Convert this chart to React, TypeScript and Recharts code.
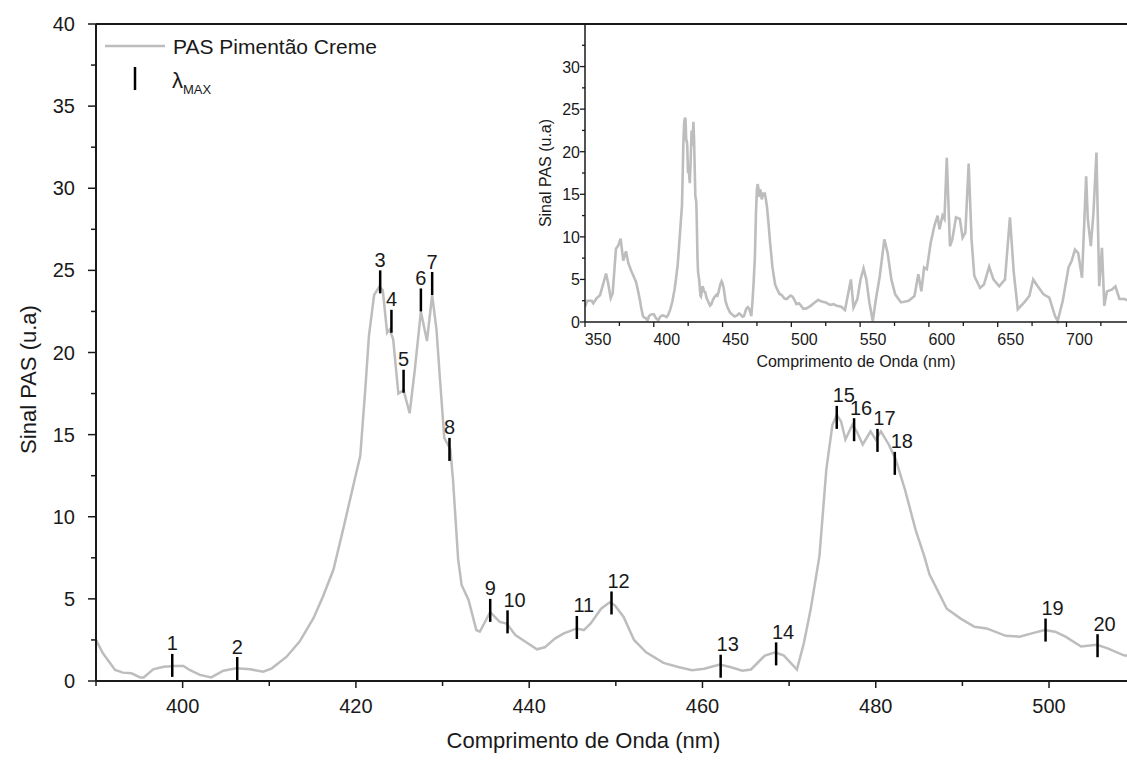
import React from 'react';
import { ComposedChart, Line, XAxis, YAxis, ReferenceLine, ReferenceDot, Label } from 'recharts';

// PAS spectrum (nm, u.a)
const wavelengths = [
  350, 351.7, 354.8, 356, 358.5, 360.9, 363.3, 365.3, 366.9, 368.7, 370.1, 372.5, 374.2, 375.9, 377.8, 379.8,
  381.5, 383.9, 387.1, 389, 390, 390.8, 392.2, 393.1, 394.1, 395.1, 395.5, 396.6, 397.8, 399.1, 400.1, 400.8,
  402, 403.3, 404.7, 406.2, 407.8, 409.3, 410.3, 412, 413.5, 415.1, 416.2, 417.4, 418.6, 419.9, 420.5, 421.1,
  421.5, 422.1, 422.7, 423.1, 423.6, 423.9, 424.3, 424.9, 425.5, 426.2, 426.8, 427.5, 428.2, 428.8, 429.3, 429.7,
  430.2, 430.9, 431.2, 431.8, 432.2, 433, 433.9, 434.3, 435.5, 436.6, 437.4, 438.4, 439.7, 440.9, 441.8, 443,
  444, 445.5, 446.3, 447.1, 448.3, 449.3, 449.9, 450.9, 452.1, 453.5, 455.5, 457.2, 458.8, 460.2, 462, 463.2,
  464.6, 465.6, 467.2, 468.4, 469.4, 470.9, 471.7, 472.5, 473.5, 474.3, 475, 475.5, 476, 476.5, 477.3, 477.8,
  478.5, 479.4, 480, 480.6, 481.5, 482.3, 483.4, 484.6, 485.6, 486.2, 488.2, 489.8, 491.4, 492.8, 495, 496.6,
  498, 499.5, 500.7, 501.9, 503.7, 505.5, 506.7, 508.7, 511, 514, 517, 519.5, 522, 525, 528, 530.7,
  533, 536.3, 539, 543.3, 545.2, 548, 550.3, 552.5, 554.5, 556.7, 559.2, 561.5, 564.3, 567.6, 570, 572.7,
  575.5, 579.7, 585.3, 589.5, 592.3, 594.5, 596.5, 598.5, 601.3, 604, 606.3, 607.7, 609.9, 611.3, 613, 615.3,
  617, 619.7, 622.5, 624.5, 626.5, 628.9, 631, 633, 637.2, 640, 643.8, 646.9, 651.1, 655.3, 658.9, 661.7,
  664.6, 669.3, 673, 675.8, 679.1, 683.3, 687.5, 691.7, 693.6, 697.3, 701.5, 703.8, 706.2, 708.5, 711.3, 714.3,
  715.5, 717.7, 719.6, 721.8, 723.8, 725.8, 727.5, 729.4, 732.9, 735.6, 738.5, 742.2, 745,
];
const signal = [
  1.8, 2.5, 2.5, 2.2, 2.8, 3.15, 4.5, 5.7, 4.5, 2.8, 3.35, 8.6, 9.0, 9.8, 7.2, 8.3,
  6.9, 5.9, 4.7, 3.3, 2.5, 1.69, 0.67, 0.51, 0.47, 0.22, 0.22, 0.71, 0.87, 0.91, 0.91, 0.67,
  0.37, 0.22, 0.63, 0.77, 0.71, 0.57, 0.77, 1.48, 2.4, 3.82, 5.14, 6.77, 9.4, 12.36, 13.7, 17.9,
  21.0, 23.5, 24.0, 23.8, 21.2, 21.4, 20.8, 17.5, 17.7, 16.3, 18.96, 22.5, 20.7, 23.5, 21.4, 18.4,
  14.8, 14.1, 12.3, 7.4, 5.85, 4.94, 3.1, 3.0, 4.2, 3.6, 3.5, 2.8, 2.34, 1.93, 2.05, 2.6,
  2.9, 3.2, 3.1, 3.5, 4.4, 4.8, 4.6, 3.9, 2.5, 1.75, 1.1, 0.85, 0.65, 0.75, 1.0, 0.85,
  0.62, 0.7, 1.55, 1.75, 1.55, 0.7, 2.3, 4.4, 7.6, 12.9, 15.6, 16.2, 15.8, 14.7, 15.6, 15.2,
  14.4, 15.2, 14.7, 15.2, 14.4, 13.5, 11.6, 9.2, 7.6, 6.5, 4.4, 3.8, 3.3, 3.2, 2.75, 2.7,
  2.9, 3.1, 3.0, 2.7, 2.1, 2.2, 2.0, 1.55, 1.6, 1.9, 2.3, 2.6, 2.4, 2.3, 2.0, 2.1,
  1.9, 1.8, 1.4, 5.0, 1.7, 2.7, 5.0, 6.3, 5.0, 2.3, 0.1, 2.7, 5.4, 9.7, 8.1, 5.0,
  3.25, 2.3, 2.5, 3.05, 5.6, 3.6, 6.4, 6.2, 9.3, 11.3, 12.5, 10.9, 12.5, 12.1, 19.3, 8.9,
  9.7, 12.3, 12.1, 9.9, 10.5, 18.6, 9.7, 5.4, 4.0, 4.4, 6.5, 5.0, 4.2, 5.0, 12.3, 5.8,
  1.5, 2.3, 3.05, 5.0, 4.2, 3.25, 2.86, 0.7, 0.1, 2.5, 6.4, 7.2, 8.5, 8.1, 5.2, 17.1,
  12.1, 8.9, 12.8, 19.9, 4.2, 8.7, 1.9, 3.6, 3.8, 4.2, 2.7, 2.7, 2.5,
];

// lambda max markers
const peakLabels = ['1', '2', '3', '4', '5', '6', '7', '8', '9', '10', '11', '12', '13', '14', '15', '16', '17', '18', '19', '20'];
const peakWavelengths = [398.8, 406.3, 422.8, 424.1, 425.5, 427.5, 428.8, 430.8, 435.5, 437.5, 445.5, 449.5, 462.1, 468.5, 475.5, 477.5, 480.2, 482.2, 499.6, 505.6];
const peakSignals = [0.95, 0.76, 24.3, 21.9, 18.25, 23.2, 24.2, 14.1, 4.3, 3.6, 3.26, 4.75, 0.9, 1.65, 16.05, 15.3, 14.65, 13.25, 3.1, 2.15];

const mainXTicks = [390, 400, 410, 420, 430, 440, 450, 460, 470, 480, 490, 500];
const mainYTicks = [0, 2.5, 5, 7.5, 10, 12.5, 15, 17.5, 20, 22.5, 25, 27.5, 30, 32.5, 35, 37.5, 40];
const insetXTicks = [350, 375, 400, 425, 450, 475, 500, 525, 550, 575, 600, 625, 650, 675, 700, 725];
const insetYTicks = [0, 2.5, 5, 7.5, 10, 12.5, 15, 17.5, 20, 22.5, 25, 27.5, 30, 32.5];

const spectrum = wavelengths.map((wl, i) => ({ wl, sig: signal[i] }));

const FONT = '"Liberation Sans", Arial, sans-serif';
const INK = '#1a1a1a';
const GREY = '#bdbdbd';

function MainXTick({ x, y, payload }: any) {
  const major = payload.value % 20 === 0;
  return (
    <g>
      <line x1={x} y1={y} x2={x} y2={y + (major ? 7 : 5)} stroke={INK} strokeWidth={1.5} />
      {major && (
        <text x={x} y={y + 32} textAnchor="middle" fontSize={20} fill={INK} fontFamily={FONT}>
          {payload.value}
        </text>
      )}
    </g>
  );
}

function MainYTick({ x, y, payload }: any) {
  const major = payload.value % 5 === 0;
  return (
    <g>
      <line x1={x - (major ? 8 : 5)} y1={y} x2={x} y2={y} stroke={INK} strokeWidth={1.5} />
      {major && (
        <text x={x - 21} y={y + 7} textAnchor="end" fontSize={20} fill={INK} fontFamily={FONT}>
          {payload.value}
        </text>
      )}
    </g>
  );
}

function InsetXTick({ x, y, payload }: any) {
  const major = payload.value % 50 === 0;
  return (
    <g>
      <line x1={x} y1={y} x2={x} y2={y + (major ? 5 : 4)} stroke={INK} strokeWidth={1.3} />
      {major && (
        <text x={x + 13} y={y + 23} textAnchor="middle" fontSize={16} fill={INK} fontFamily={FONT}>
          {payload.value}
        </text>
      )}
    </g>
  );
}

function InsetYTick({ x, y, payload }: any) {
  const major = payload.value % 5 === 0;
  return (
    <g>
      <line x1={x - (major ? 5 : 3)} y1={y} x2={x} y2={y} stroke={INK} strokeWidth={1.3} />
      {major && (
        <text x={x - 5} y={y + 6} textAnchor="end" fontSize={16} fill={INK} fontFamily={FONT}>
          {payload.value}
        </text>
      )}
    </g>
  );
}

function PeakMark({ cx, cy, text }: any) {
  const dx = text.length > 1 ? 7 : 0;
  return (
    <g>
      <line x1={cx} y1={cy - 11.5} x2={cx} y2={cy + 11.5} stroke="#000" strokeWidth={2.5} />
      <text x={cx + dx} y={cy - 15} textAnchor="middle" fontSize={20} fill={INK} fontFamily={FONT}>
        {text}
      </text>
    </g>
  );
}

export default function App() {
  return (
    <div style={{ position: 'absolute', left: 0, top: 0, width: 1127, height: 760, background: '#fff', overflow: 'hidden' }}>
      <div style={{ position: 'absolute', left: 0, top: 0 }}>
        <ComposedChart width={1127} height={760} margin={{ top: 24, right: 0, bottom: 0, left: 0 }}>
          <XAxis
            dataKey="wl"
            type="number"
            domain={[390, 509]}
            allowDataOverflow
            ticks={mainXTicks}
            interval={0}
            tick={<MainXTick />}
            tickSize={0}
            tickMargin={0}
            tickLine={false}
            axisLine={{ stroke: INK, strokeWidth: 2 }}
            height={79}
          >
            <Label value="Comprimento de Onda (nm)" position="insideBottom" offset={12} dx={-28} fontSize={22} fill={INK} fontFamily={FONT} />
          </XAxis>
          <YAxis
            type="number"
            domain={[0, 40]}
            ticks={mainYTicks}
            interval={0}
            tick={<MainYTick />}
            tickSize={0}
            tickMargin={0}
            tickLine={false}
            axisLine={{ stroke: INK, strokeWidth: 2 }}
            width={96}
          >
            <Label value="Sinal PAS (u.a)" angle={-90} position="center" dx={-20} dy={27} fontSize={22} fill={INK} fontFamily={FONT} />
          </YAxis>
          <ReferenceLine y={40} stroke={INK} strokeWidth={2} />
          <Line
            data={spectrum}
            dataKey="sig"
            type="linear"
            stroke={GREY}
            strokeWidth={2.5}
            dot={false}
            isAnimationActive={false}
          />
          {peakWavelengths.map((wl, i) => (
            <ReferenceDot
              key={peakLabels[i]}
              x={wl}
              y={peakSignals[i]}
              r={0}
              shape={(p: any) => <PeakMark cx={p.cx} cy={p.cy} text={peakLabels[i]} />}
            />
          ))}
        </ComposedChart>
      </div>

      <div style={{ position: 'absolute', left: 480, top: 0 }}>
        <ComposedChart width={647} height={400} margin={{ top: 24, right: 0, bottom: 0, left: 0 }}>
          <XAxis
            dataKey="wl"
            type="number"
            domain={[350, 744]}
            allowDataOverflow
            ticks={insetXTicks}
            interval={0}
            tick={<InsetXTick />}
            tickSize={0}
            tickMargin={0}
            tickLine={false}
            axisLine={{ stroke: INK, strokeWidth: 1.5 }}
            height={78}
          >
            <Label value="Comprimento de Onda (nm)" position="insideBottom" offset={33} fontSize={16} fill={INK} fontFamily={FONT} />
          </XAxis>
          <YAxis
            type="number"
            domain={[0, 35]}
            ticks={insetYTicks}
            interval={0}
            tick={<InsetYTick />}
            tickSize={0}
            tickMargin={0}
            tickLine={false}
            axisLine={{ stroke: INK, strokeWidth: 1.5 }}
            width={105}
          >
            <Label value="Sinal PAS (u.a)" angle={-90} position="center" dx={13} fontSize={16} fill={INK} fontFamily={FONT} />
          </YAxis>
          <Line
            data={spectrum}
            dataKey="sig"
            type="linear"
            stroke={GREY}
            strokeWidth={2.6}
            dot={false}
            isAnimationActive={false}
          />
        </ComposedChart>
      </div>

      <svg width={480} height={110} style={{ position: 'absolute', left: 0, top: 0 }}>
        <line x1={105} y1={46} x2={165} y2={46} stroke={GREY} strokeWidth={2.5} />
        <text x={173} y={54} fontSize={21} fill={INK} fontFamily={FONT}>PAS Pimentão Creme</text>
        <line x1={135} y1={67} x2={135} y2={90} stroke="#000" strokeWidth={2.5} />
        <text x={172} y={88} fontSize={22} fill={INK} fontFamily={FONT}>
          λ<tspan fontSize={13} dy={6}>MAX</tspan>
        </text>
      </svg>
    </div>
  );
}
